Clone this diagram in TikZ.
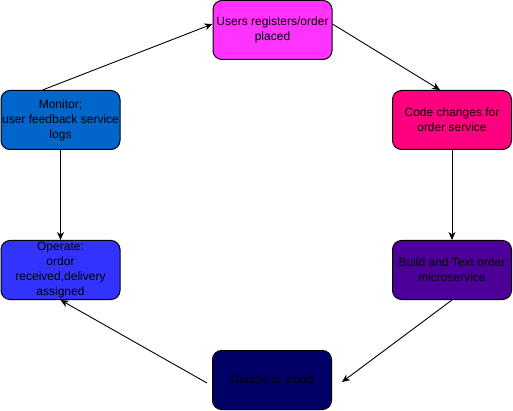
\documentclass[tikz,border=0pt]{standalone}
\usepackage{fontspec}
\setmainfont{Liberation Sans}
\usetikzlibrary{arrows.meta}

\definecolor{usersfill}{HTML}{FF33FF}
\definecolor{codefill}{HTML}{FF0080}
\definecolor{buildfill}{HTML}{4C0099}
\definecolor{deployfill}{HTML}{000066}
\definecolor{monitorfill}{HTML}{0066CC}
\definecolor{operatefill}{HTML}{3333FF}

\begin{document}
\begin{tikzpicture}[
  x=1pt, y=-1pt,
  font=\fontsize{12}{15}\selectfont,
  stage/.style={
    draw=black, line width=1pt, rounded corners=9pt,
    minimum width=119pt, minimum height=59pt,
    align=center, inner sep=1pt
  },
  flow/.style={-{Stealth[length=8pt,width=7pt,inset=2.5pt]}, line width=0.9pt},
]
  \useasboundingbox (0,0) rectangle (513,411);

  % --- pipeline stages ---
  \node[stage, fill=usersfill]   (users)   at (272.5, 30)  {Users registers/order\\placed};
  \node[stage, fill=codefill]    (code)    at (452, 120)   {Code changes for\\order service};
  \node[stage, fill=buildfill]   (build)   at (452, 270)   {Build and Text order\\microservice};
  \node[stage, fill=deployfill]  (deploy)  at (272, 380)   {Deploy to cloud};
  \node[stage, fill=operatefill] (operate) at (60.5, 270)  {Operate:\\ordor\\received,delivery\\assigned};
  \node[stage, fill=monitorfill] (monitor) at (60.5, 120)  {Monitor;\\user feedback service\\logs};

  % --- connectors ---
  \draw[flow] ([yshift=6pt]users.east) -- ([xshift=-12pt]code.north);
  \draw[flow] (code.south) -- (build.north);
  \draw[flow] (build.south) -- ([xshift=10pt,yshift=-2pt]deploy.east);
  \draw[flow] ([xshift=-5pt,yshift=-3pt]deploy.west) -- (operate.south);
  \draw[flow] (monitor.south) -- (operate.north);
  \draw[flow] ([xshift=-18pt]monitor.north) -- ([yshift=6pt]users.west);

\end{tikzpicture}
\end{document}
